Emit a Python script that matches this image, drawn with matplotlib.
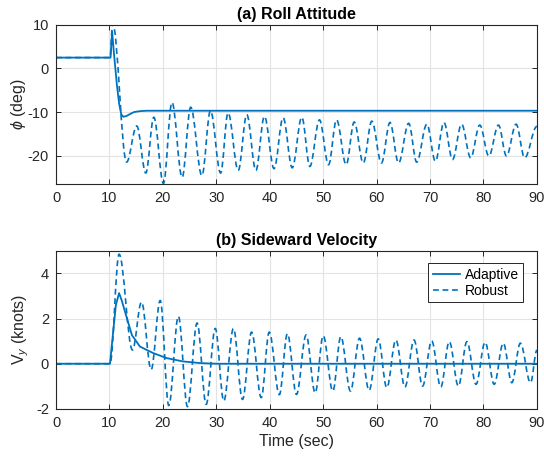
import matplotlib
matplotlib.use("Agg")
import matplotlib.pyplot as plt
from matplotlib.path import Path
from matplotlib.patches import PathPatch
from matplotlib.lines import Line2D

plt.rcParams['font.family'] = ['Liberation Sans', 'DejaVu Sans']
plt.rcParams['mathtext.fontset'] = 'custom'
plt.rcParams['mathtext.it'] = 'Liberation Sans:italic'
plt.rcParams['axes.unicode_minus'] = False

BLUE = '#0072BD'

# (a) roll attitude, adaptive controller (deg)
roll_adapt_t = [0, 10.2, 10.5, 10.8, 11.4, 11.8, 12.2, 12.6, 13.2, 13.8, 14.6, 15.7, 17, 90]
roll_adapt_v = [2.5, 2.5, 8.5, 4.0, -3.9, -8.0, -10.5, -11.1, -10.9, -10.5, -10.0, -9.8, -9.7, -9.7]

# (a) roll attitude, robust controller: turning points (deg)
roll_rob_t = [0, 10.1, 10.6, 13.2, 15.1, 16.8, 18.3, 20.1, 21.7, 23.6, 25.2, 27.3, 28.9,
              30.8, 32.2, 34.1, 35.7, 37.4, 39.0, 40.8, 42.5, 44.2, 46.0, 47.5, 49.3,
              51.0, 52.5, 54.3, 55.8, 57.5, 59.1, 60.9, 62.5, 64.1, 66.0, 67.5, 69.4,
              71.0, 72.6, 74.2, 75.9, 77.6, 79.3, 81.0, 82.8, 84.3, 86.1, 87.7, 90]
roll_rob_v = [2.5, 2.5, 10.4, -21.5, -13.2, -24.0, -11.2, -26.4, -7.8, -25.0, -8.9, -24.6, -9.7,
              -24.0, -10.2, -23.4, -10.6, -23.4, -11.0, -23.0, -11.3, -22.8, -11.2, -22.5, -11.8,
              -22.1, -11.8, -22.1, -12.3, -21.7, -12.1, -21.7, -12.4, -21.7, -12.6, -21.5, -12.8,
              -21.3, -12.4, -20.9, -12.8, -20.5, -13.0, -20.1, -13.0, -20.1, -12.8, -20.5, -13.3]

# (b) sideward velocity, adaptive controller (knots)
vy_adapt_t = [0, 10.1, 10.6, 11.2, 11.8, 12.3, 13.2, 14.2, 15.7, 18.2, 20.7, 23.8, 26.9, 30, 90]
vy_adapt_v = [0, 0, 1.2, 2.6, 3.13, 2.8, 2.07, 1.27, 0.76, 0.47, 0.25, 0.1, 0.03, 0, 0]

# (b) sideward velocity, robust controller: turning points (knots)
vy_rob_t = [0, 10.1, 11.8, 14.3, 16.0, 17.8, 19.5, 21.1, 22.9, 24.6, 26.4, 28.1, 29.8, 31.4,
            33.2, 34.9, 36.6, 38.4, 39.9, 41.8, 43.3, 45.0, 46.8, 48.5, 50.0, 51.8, 53.3,
            55.1, 56.8, 58.6, 60.3, 61.9, 63.6, 65.3, 67.0, 68.6, 70.3, 72.0, 73.6, 75.3,
            76.9, 78.6, 80.3, 82.0, 83.7, 85.3, 86.9, 88.8, 90]
vy_rob_v = [0, 0, 4.85, 0.61, 2.73, -0.26, 2.8, -1.85, 2.1, -1.9, 1.8, -1.8, 1.56, -1.65,
            1.56, -1.58, 1.4, -1.5, 1.4, -1.37, 1.33, -1.36, 1.27, -1.29, 1.24, -1.21, 1.2,
            -1.21, 1.13, -1.18, 1.1, -1.06, 1.05, -1.03, 1.05, -0.99, 1.01, -1.03, 0.98, -0.99,
            0.98, -0.91, 0.95, -0.91, 0.91, -0.84, 0.91, -0.84, 0.6]

x_ticks = list(range(0, 91, 10))


def smooth_path(t, v):
    # cubic bezier between turning points, flat tangents at each point
    verts = [(t[0], v[0])]
    codes = [Path.MOVETO]
    for i in range(1, len(t)):
        dt = t[i] - t[i - 1]
        verts += [(t[i - 1] + 0.364 * dt, v[i - 1]), (t[i] - 0.364 * dt, v[i]), (t[i], v[i])]
        codes += [Path.CURVE4] * 3
    return Path(verts, codes)


def style(ax, ylim, yticks):
    ax.set_xlim(0, 90)
    ax.set_ylim(*ylim)
    ax.set_xticks(x_ticks)
    ax.set_yticks(yticks)
    ax.grid(True, color='#e3e3e3', linewidth=0.8)
    ax.set_axisbelow(True)
    ax.tick_params(direction='in', top=True, right=True, length=3.5, width=0.7,
                   colors='#262626', labelsize=10.5, pad=5)
    for s in ax.spines.values():
        s.set_color('#262626')
        s.set_linewidth(0.8)


fig = plt.figure(figsize=(5.44, 4.62), dpi=100)
ax1 = fig.add_axes([0.103, 0.602, 0.884, 0.344])
ax2 = fig.add_axes([0.103, 0.115, 0.884, 0.342])

ax1.plot(roll_adapt_t, roll_adapt_v, color=BLUE, lw=1.3)
ax1.add_patch(PathPatch(smooth_path(roll_rob_t, roll_rob_v), fill=False, edgecolor=BLUE,
                        lw=1.2, linestyle=(0, (3.5, 2.2))))
style(ax1, (-26.5, 10), [-20, -10, 0, 10])
ax1.set_title('(a) Roll Attitude', fontsize=11.5, fontweight='bold', pad=4)
ax1.set_ylabel(r'$\phi$ (deg)', fontsize=11.5, color='#262626', labelpad=0)

ax2.plot(vy_adapt_t, vy_adapt_v, color=BLUE, lw=1.3)
ax2.add_patch(PathPatch(smooth_path(vy_rob_t, vy_rob_v), fill=False, edgecolor=BLUE,
                        lw=1.2, linestyle=(0, (3.5, 2.2))))
style(ax2, (-2, 5), [-2, 0, 2, 4])
ax2.set_title('(b) Sideward Velocity', fontsize=11.5, fontweight='bold', pad=4)
ax2.set_ylabel(r'V$_y$ (knots)', fontsize=11.5, color='#262626', labelpad=4)
ax2.set_xlabel('Time (sec)', fontsize=11.5, color='#262626', labelpad=3)

handles = [Line2D([], [], color=BLUE, lw=1.3),
           Line2D([], [], color=BLUE, lw=1.2, linestyle=(0, (3.5, 2.2)))]
leg = ax2.legend(handles, ['Adaptive', 'Robust'], loc='upper right', fontsize=10,
                 fancybox=False, framealpha=1, edgecolor='#262626', handlelength=2.0,
                 handletextpad=0.3, borderpad=0.3, labelspacing=0.2,
                 bbox_to_anchor=(0.985, 0.965))
leg.get_frame().set_linewidth(0.7)

fig.savefig('out.png', dpi=100)
